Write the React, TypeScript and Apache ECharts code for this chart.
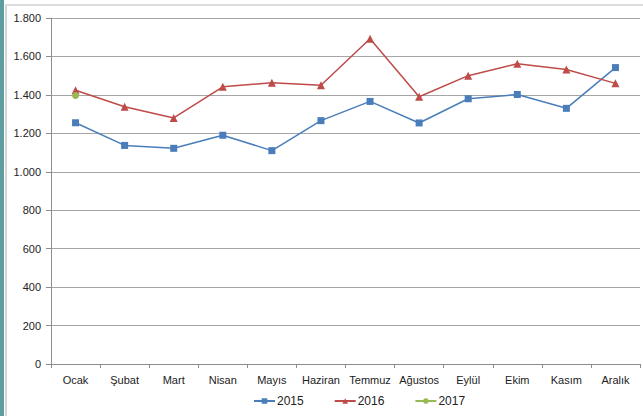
import React, { useEffect, useRef } from "react";
import * as echarts from "echarts";

const months = ["Ocak", "Şubat", "Mart", "Nisan", "Mayıs", "Haziran", "Temmuz", "Ağustos", "Eylül", "Ekim", "Kasım", "Aralık"];
const s2015 = [1255, 1137, 1122, 1190, 1110, 1266, 1366, 1254, 1380, 1402, 1330, 1542];
const s2016 = [1424, 1338, 1280, 1442, 1463, 1450, 1692, 1390, 1500, 1562, 1532, 1460];
const s2017 = [1397, null, null, null, null, null, null, null, null, null, null, null];

const fmt = (v: number) => {
  const s = String(Math.round(v));
  return s.replace(/\B(?=(\d{3})+(?!\d))/g, ".");
};

export default function App() {
  const ref = useRef<HTMLDivElement>(null);
  useEffect(() => {
    const chart = echarts.init(ref.current!, null, { renderer: "svg" });
    const font = "'Liberation Sans', Arial, sans-serif";
    chart.setOption({
      animation: false,
      backgroundColor: "#ffffff",
      textStyle: { fontFamily: font },
      graphic: [
        { type: "rect", shape: { x: 0, y: 0, width: 4, height: 416 }, style: { fill: "#5f9ea0" }, z: 100 },
        { type: "rect", shape: { x: 5, y: 4, width: 2, height: 412 }, style: { fill: "#d4d4d4" }, z: 100 },
        { type: "rect", shape: { x: 5, y: 4, width: 638, height: 2 }, style: { fill: "#dcdcdc" }, z: 100 },
      ],
      grid: { left: 51, right: 3, top: 18, bottom: 52, containLabel: false },
      legend: {
        bottom: 4,
        left: 248,
        itemWidth: 21,
        itemHeight: 7,
        itemGap: 30,
        textStyle: { fontSize: 12, color: "#222", fontFamily: font, padding: [0, 0, 0, -3] },
        data: ["2015", "2016", "2017"],
      },
      xAxis: {
        type: "category",
        data: months,
        boundaryGap: true,
        axisLine: { lineStyle: { color: "#8c8c8c", width: 1 } },
        axisTick: { show: true, length: 4, interval: 0, lineStyle: { color: "#8c8c8c" } },
        axisLabel: { fontSize: 11, color: "#222", margin: 10, interval: 0, fontFamily: font },
      },
      yAxis: {
        type: "value",
        min: 0,
        max: 1800,
        interval: 200,
        axisLine: { show: true, lineStyle: { color: "#8c8c8c" } },
        axisTick: { show: true, length: 5, lineStyle: { color: "#8c8c8c" } },
        splitLine: { lineStyle: { color: "#a6a6a6", width: 1 } },
        axisLabel: { fontSize: 11, color: "#222", margin: 10, fontFamily: font, formatter: fmt },
      },
      series: [
        {
          name: "2015",
          type: "line",
          data: s2015,
          symbol: "rect",
          symbolSize: 7,
          itemStyle: { color: "#4a7ebb" },
          lineStyle: { color: "#4a7ebb", width: 1.5 },
        },
        {
          name: "2016",
          type: "line",
          data: s2016,
          symbol: "triangle",
          symbolSize: 8,
          itemStyle: { color: "#be4b48" },
          lineStyle: { color: "#be4b48", width: 1.5 },
        },
        {
          name: "2017",
          type: "line",
          data: s2017,
          symbol: "circle",
          symbolSize: 7,
          itemStyle: { color: "#98b954" },
          lineStyle: { color: "#98b954", width: 1.5 },
        },
      ],
    });
    return () => chart.dispose();
  }, []);
  return (
    <div
      ref={ref}
      style={{ position: "fixed", left: 0, top: 0, width: 643, height: 416, background: "#fff" }}
    />
  );
}
